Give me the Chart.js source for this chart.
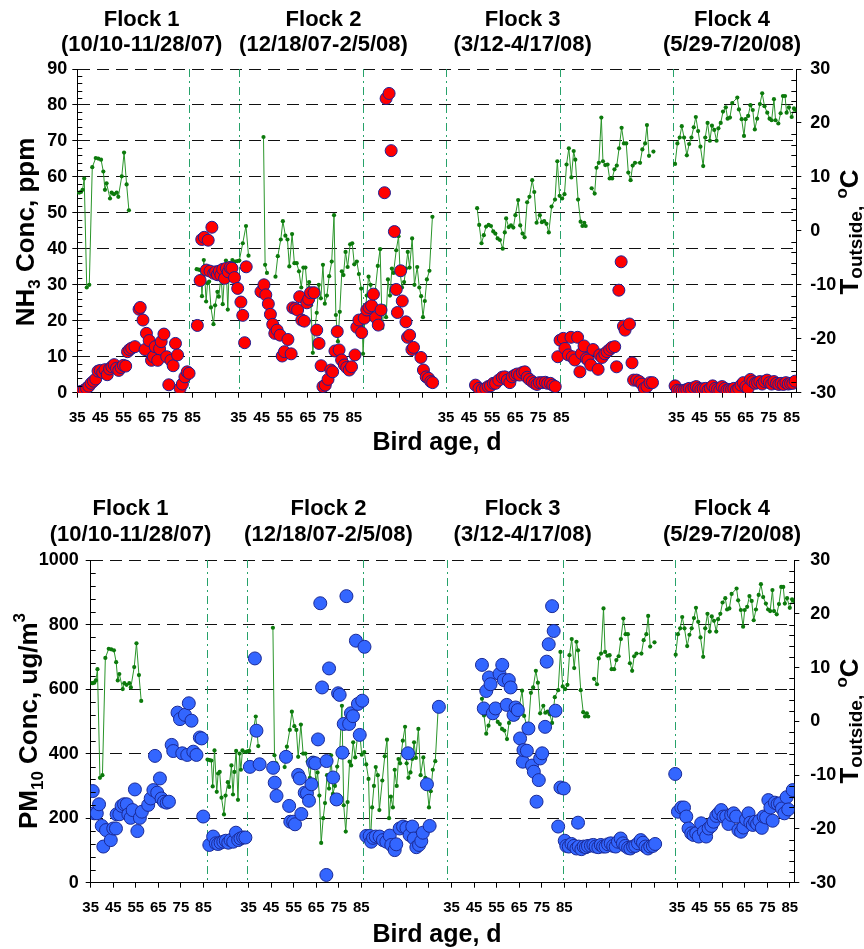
<!DOCTYPE html>
<html><head><meta charset="utf-8">
<script src="https://cdn.jsdelivr.net/npm/chart.js@4.4.0/dist/chart.umd.min.js"></script>
<style>
html,body{margin:0;padding:0;background:#fff;}
canvas{position:absolute;left:0;}
#c1{top:0;}
#c2{top:475px;}
</style></head><body>
<canvas id="c1" width="864" height="475"></canvas>
<canvas id="c2" width="864" height="474"></canvas>
<script>
const FONT = "'Liberation Sans', Arial, Helvetica, sans-serif";

// ---------- labels ----------
const flockNames = ['Flock 1','Flock 2','Flock 3','Flock 4'];
const flockDates = ['(10/10-11/28/07)','(12/18/07-2/5/08)','(3/12-4/17/08)','(5/29-7/20/08)'];
const ageTicks = [35,45,55,65,75,85];          // bird age tick labels (per flock)
const flockOffsets = [0,70,160,260];           // position of each flock's age scale on the shared axis
const xTickPositions = [35,45,55,65,75,85,95,105,115,125,135,145,155,165,175,185,195,205,215,225,235,245,255,265,275,285,295,305,315,325,335,345];
const nh3Ticks = [0,10,20,30,40,50,60,70,80,90];
const pmTicks = [0,200,400,600,800,1000];
const tempTicks = [-30,-20,-10,0,10,20,30];
const dividersTop = [83.5,105.2,159.1,194.8,244.3,293.6];
const dividersBottom = [86.5,104.2,155.6,193.2,244.6,294.2];

// ---------- NH3 (ppm) ----------
const nh3Day1 = [35,36,37,38,39,40,41,42,43,44,45,46,47,48,49,50,51,52,53,54,55,56,56.8,57.7,58.6,60,61.8,62.3,63.5,64.4,65,66.2,67.2,68,68.8,69.9,70.7,71.4,72.6,73.8,74.7,75.6,76.6,77.6,78.5,79.6,80.6,81.7,82.7,83.5];
const nh3Conc1 = [0.2,0.2,0.4,0.7,1.2,1.8,2.6,3.2,3.8,6.0,6.2,5.6,6.4,5.0,6.6,7.2,7.8,6.8,6.2,7.0,7.6,7.4,11.4,12.0,12.4,12.8,23.2,23.7,20.2,12.0,16.5,14.5,9.0,10.0,12.8,9.0,12.2,14.2,16.3,10.0,2.2,9.0,7.5,13.7,10.5,1.2,2.4,4.4,5.8,5.4];
const nh3Day2 = [87.1,88.3,89.0,90.1,91.0,91.8,92.6,93.4,94.2,95.0,95.8,96.6,97.3,98.1,98.9,99.7,100.5,101.3,102.1,103.2,104.6,106.0,106.8,107.6,108.3,114.7,116.0,116.8,117.9,118.8,119.8,120.7,121.7,123.0,123.9,124.9,126.4,127.8,128.5,129.6,130.6,131.5,132.4,133.5,134.6,135.4,136.2,137.7,138.9,139.9,140.8,141.6,142.6,143.8,145.0,145.8,146.8,147.8,148.6,149.7,150.9,151.9,153.0,154.0,155.5,156.3,157.2,158.4,159.5,160.6,161.6,162.7,163.5,164.5,165.6,166.8,168.3,169.0,170.3,171.2,172.6,173.4,173.9,175.3,176.0,177.6,178.3,179.2,180.2,180.9,184.1,185.2,186.4,187.4,188.4,189.2];
const nh3Conc2 = [18.7,31.2,42.6,43.2,34.1,42.4,33.8,46.0,33.2,33.6,32.8,33.8,32.7,34.3,31.8,34.6,33.6,34.8,34.6,32.0,29.0,25.2,21.5,13.9,35.0,28.1,30.0,27.2,24.7,21.8,19.0,16.5,17.4,16.0,10.2,11.4,14.8,10.8,23.6,23.4,23.0,26.7,20.2,19.9,25.0,26.0,27.8,27.8,17.4,13.7,7.5,1.7,2.1,3.7,6.3,5.8,11.6,17.0,11.9,9.1,7.7,7.0,6.3,7.2,10.5,18.2,20.2,16.7,20.7,23.0,23.7,24.2,27.4,20.9,18.8,23.0,55.6,81.8,83.2,67.3,44.8,28.7,22.3,33.9,25.5,19.7,15.4,16.0,12.0,12.6,9.8,6.3,4.4,4.0,3.1,2.8];
const nh3Day3 = [207.8,209.3,210.7,212.2,213.3,214.3,215.5,216.5,217.9,219.4,220.5,221.6,222.7,223.7,224.9,225.9,226.9,228.1,229.2,230.2,231.2,232.4,233.5,234.5,235.5,236.7,238.1,239.1,240.3,241.3,242.4,243.5,244.5,245.9,246.6,248.1,249.2,249.8,250.9,252.1,253.1,253.8,254.9,255.9,256.6,257.8,258.8,261.0,261.7,262.7,263.9,264.9,266.0,267.0,268.2,269.0,270.0,271.0,272.0,272.7,274.6,275.7,276.4,277.7,278.9,280.0,281.0,282.2,283.5,284.6];
const nh3Conc3 = [2.1,1.2,0.9,1.2,1.7,1.9,2.6,2.6,3.5,4.3,4.4,3.5,2.8,4.4,4.9,5.2,4.9,5.6,5.8,4.3,3.7,3.1,2.6,2.3,2.8,2.8,2.9,2.6,2.6,2.1,1.7,10.0,14.6,15.1,12.3,10.5,15.4,10.0,9.1,15.4,5.8,10.9,13.0,9.5,9.1,7.7,12.0,6.5,10.5,9.8,10.8,11.4,12.0,12.6,12.8,7.2,28.5,36.4,18.5,17.4,19.1,8.3,3.5,3.5,3.1,2.4,1.2,1.7,2.8,2.8];
const nh3Day4 = [294.4,295.4,296.4,297.4,298.5,299.5,300.5,301.5,302.6,303.6,304.6,305.6,306.6,307.7,308.7,309.7,310.7,311.8,312.8,313.8,314.8,315.9,316.9,317.9,318.9,319.9,321.0,322.0,323.0,324.0,325.1,326.1,327.1,328.1,329.2,330.2,331.2,332.2,333.2,334.3,335.3,336.3,337.3,338.4,339.4,340.4,341.4,342.5,343.5,344.5,345.5,346.5];
const nh3Conc4 = [1.9,0.7,0.6,0.5,0.7,0.9,1.2,0.9,1.4,1.7,1.2,0.9,1.1,1.2,0.7,1.2,1.9,1.2,0.9,0.7,1.7,1.2,0.7,0.9,0.9,1.2,0.7,1.2,2.1,2.8,1.7,1.2,3.7,3.1,2.6,2.8,3.1,2.4,3.1,3.5,2.8,2.4,3.1,2.6,2.3,2.6,2.3,2.8,2.4,2.6,2.6,3.2];

// ---------- PM10 (ug/m3) ----------
const pmDay1 = [35.9,36.6,37.7,38.7,39.9,40.6,41.8,43.9,45.0,46.2,46.5,47.7,48.7,49.8,51.0,51.7,52.7,53.6,54.6,55.7,56.8,57.7,60.5,61.6,62.8,63.5,64.5,65.7,66.4,67.5,68.7,69.7,70.9,71.6,73.5,74.6,75.6,76.8,77.8,78.5,79.7,80.5,81.9,83.4,84.2,84.9,87.6,89.3,90.5,91.5,92.6,93.8,94.9,96.0,97.0,98.2,99.4,100.4,101.4,102.6,103.6];
const pmConc1 = [284,215,215,243,176,112,163,132,168,168,212,212,238,243,243,212,201,225,289,160,201,220,241,261,287,393,279,323,261,251,248,251,427,408,527,507,401,520,396,556,502,406,396,450,447,205,117,143,122,120,124,127,130,124,132,127,155,132,137,140,140];
const pmDay2 = [105.6,107.8,108.5,109.9,115.9,116.6,117.4,121.6,123.0,123.5,124.8,125.6,127.0,127.7,128.4,129.9,130.9,131.8,132.9,133.6,134.6,135.8,136.8,137.6,139.5,139.6,140.7,142.5,144.0,144.7,145.4,146.6,147.2,148.4,149.6,150.4,151.3,152.6,153.5,154.3,155.4,156.4,157.2,158.7,159.4,160.2,161.4,163.1,164.6,166.1,167.6,168.3,169.8,170.5,172.0,173.5,175.0,175.7,176.4,177.6,178.3,179.4,180.6,181.6,182.3,184.1,185.3,189.4];
const pmConc2 = [359,695,471,367,356,310,269,390,238,189,189,181,334,323,213,279,277,254,305,372,370,444,866,605,24,377,664,326,258,587,582,403,492,888,492,525,516,750,554,458,564,731,145,145,127,139,143,143,132,127,146,117,101,119,168,174,170,401,148,174,137,110,117,129,155,305,176,545];
const pmDay3 = [208.5,209.3,210.4,211.6,212.3,213.3,214.5,216.3,217.5,218.2,219.5,220.4,221.2,222.5,223.4,224.4,225.4,226.6,226.9,228.4,229.1,230.7,231.5,232.7,233.7,234.3,235.2,236.5,237.2,238.1,239.6,240.3,241.1,242.3,243.3,244.8,245.2,245.9,247.0,248.2,249.3,250.4,251.1,251.4,252.6,253.6,254.6,255.5,256.8,257.9,258.9,260.1,261.2,262.2,263.3,264.4,265.6,266.7,267.8,268.8,270.0,271.0,272.1,273.3,274.3,275.5,276.5,277.7,278.9,279.9,281.0,282.1,283.1,284.3,285.3];
const pmConc3 = [675,540,594,636,615,525,540,647,675,628,551,628,605,520,543,535,447,375,411,409,478,363,344,251,318,385,401,483,685,739,857,780,533,174,295,292,130,114,112,120,114,106,186,112,104,112,110,114,115,117,112,110,117,112,112,119,122,114,112,127,137,122,114,108,106,112,114,122,132,124,112,106,112,114,120];
const pmDay4 = [294.2,295.4,296.9,298.1,299.1,300.1,301.3,302.3,303.5,304.6,305.7,306.9,307.9,309.0,310.2,311.2,312.4,313.4,314.6,315.6,316.8,317.8,319.0,320.1,321.2,322.2,323.4,324.4,325.6,326.7,327.5,328.6,329.6,330.5,331.5,332.6,333.4,334.5,335.5,336.4,337.4,338.4,339.6,340.7,341.5,342.6,343.6,344.3,346.3];
const pmConc4 = [337,220,233,233,205,168,153,148,153,143,184,158,143,168,176,189,207,215,225,205,205,182,210,215,205,163,158,171,196,215,186,179,189,182,192,170,205,202,256,233,192,248,244,246,230,215,265,227,287];

// ---------- outside temperature (deg C); null = no reading ----------
const tempDay1 = [35.0,35.9,36.6,37.3,38.0,39.1,40.2,41.5,43.0,44.1,45.3,46.3,47.0,47.7,49.2,49.9,50.9,52.1,52.8,54.3,55.3,56.4,57.4];
const temp1 = [7.1,7.1,7.2,7.6,9.7,-10.5,-10.0,11.8,13.5,13.4,13.2,11.0,7.6,8.8,6.0,7.1,6.8,7.1,6.3,10.1,14.5,8.6,3.8];
const tempDay2 = [86.8,87.7,88.5,89.1,89.9,90.9,91.5,92.2,93.0,94.1,94.8,95.8,96.4,97.4,98.1,98.7,99.5,100.3,101.0,101.6,102.3,103.5,104.5,105.3,106.8,108.2,109.3,112.0,115.8,116.5,117.3,119.0,121.0,122.0,123.3,124.2,125.3,126.2,127.0,128.2,129.2,130.2,131.2,132.2,133.1,134.0,134.9,135.6,136.4,137.2,138.1,138.9,139.8,140.7,141.6,142.4,143.3,144.3,145.4,146.4,147.2,148.1,148.9,149.8,150.5,151.4,152.3,153.4,154.3,155.2,156.3,157.2,158.2,159.0,159.8,160.6,161.4,162.3,163.0,164.3,165.4,166.4,167.3,168.1,169.0,169.8,170.7,171.5,172.2,173.4,174.4,175.1,175.9,176.8,177.6,178.4,179.2,180.3,181.3,182.5,183.4,184.2,185.0,185.8,186.7,187.8,189.1];
const temp2 = [-7.1,-7.2,-7.3,-12.1,-5.4,-13.1,-9.7,-9.4,-14.2,-17.3,-13.8,-11.3,-12.2,-8.2,-13.6,-9.4,-5.5,-14.6,-6.0,-9.0,-5.4,-5.7,-5.6,-5.5,-2.3,0.9,-4.6,null,17.4,-6.3,-7.8,null,-8.5,-4.7,-1.6,1.8,-0.9,-1.6,-6.6,-0.6,-6.0,-6.0,-7.5,-10.5,-6.8,-6.8,-11.6,-9.5,-13.8,-22.6,-18.0,-15.2,-10.0,-12.5,-6.3,-13.5,-12.0,-8.4,-5.7,2.9,-15.6,-20.5,-15.0,-7.5,-8.2,-3.9,-6.7,-2.5,-2.3,-6.2,-5.7,-8.0,-10.7,-22.8,-16.0,-12.0,-8.5,-10.0,-16.5,-11.0,-6.5,-3.4,-18.0,-14.0,-16.0,-9.0,-12.0,-7.0,-7.8,-3.6,-1.0,-7.8,-10.5,-9.5,-7.0,-3.9,-6.8,-1.4,-10.0,-6.7,-10.5,-12.1,-16.0,-13.0,-9.0,-7.4,2.6];
const tempDay3 = [208.5,209.4,210.4,211.4,212.4,213.5,214.5,215.5,216.4,217.4,218.4,219.6,220.5,221.1,222.2,223.2,224.2,225.1,226.3,227.2,228.2,229.1,230.2,231.2,232.4,233.3,234.3,235.7,236.6,237.6,238.6,239.6,240.8,242.3,243.3,244.3,245.4,246.4,247.3,248.3,249.4,250.4,251.1,252.3,253.4,254.2,255.0,255.6,257.0,258.2,259.5,260.3,261.3,262.4,263.1,264.1,265.1,266.0,267.1,268.1,269.1,270.1,271.2,272.2,273.2,274.1,275.1,276.0,277.0,279.2,280.2,281.4,282.2,283.1,284.0,285.0];
const temp3 = [4.2,1.1,-2.3,-0.8,0.8,1.1,0.9,-0.1,-0.5,-1.4,-1.7,-3.3,-0.3,2.3,0.7,1.0,0.6,2.9,5.7,1.0,-0.5,-1.2,5.3,6.3,9.4,7.2,1.5,2.9,1.6,1.8,1.3,-0.3,4.5,5.8,12.9,6.5,6.0,6.8,12.3,15.3,9.9,14.8,13.2,5.8,1.7,0.9,1.5,0.9,null,7.9,6.9,11.7,12.6,21.0,12.9,12.2,12.3,9.7,9.7,11.4,12.1,15.3,19.1,16.2,16.2,10.8,9.4,12.1,12.6,12.6,15.1,16.2,19.6,13.9,null,14.7];
const tempDay4 = [294.4,295.4,296.4,297.3,298.3,299.5,300.5,301.5,302.5,303.4,304.4,305.4,306.6,307.5,308.5,309.5,310.4,311.4,312.4,313.2,314.2,315.2,316.4,317.2,318.2,319.2,321.4,322.1,323.3,324.3,325.0,326.1,327.1,328.1,329.0,330.0,331.2,332.2,333.2,334.4,335.4,336.3,337.3,338.0,339.2,340.2,341.2,342.1,342.8,343.8,345.0,346.0,346.7];
const temp4 = [12.4,16.2,17.3,19.4,17.3,14.0,16.1,17.3,19.2,21.1,18.5,15.6,12.0,17.3,20.0,16.7,19.5,18.7,16.7,19.0,20.0,22.1,22.9,20.8,21.0,23.7,24.7,22.5,20.7,17.6,20.7,21.3,23.3,22.4,18.8,20.8,23.5,25.5,23.1,21.9,20.8,20.5,24.4,20.5,19.9,21.8,25.0,25.0,21.9,22.9,21.1,22.7,22.4];

// ---------- helpers ----------
function pts(xs, ys){ return xs.map((x,i)=>({x:x, y:ys[i]})); }
function ageLabel(v){
  for (const off of flockOffsets){
    const a = Math.round(v - off);
    if (ageTicks.includes(a) && Math.abs(v-off-a) < 0.01) return String(a);
  }
  return '';
}
function circleSet(xs, ys, fill, stroke, r){
  return {type:'scatter', data:pts(xs,ys), yAxisID:'y', backgroundColor:fill, borderColor:stroke,
    borderWidth:1, pointRadius:r, pointHoverRadius:r, order:0, showLine:false};
}
function tempSet(xs, ys){
  return {type:'scatter', data:pts(xs,ys), yAxisID:'y1', showLine:true, spanGaps:false,
    borderColor:'#2a952a', borderWidth:1, pointRadius:2.1, pointHoverRadius:2.1,
    pointBackgroundColor:'#0c7a0c', pointBorderWidth:0, backgroundColor:'#0c7a0c', order:1};
}
function richText(ctx, parts, cx, cy, rot){
  ctx.save(); ctx.translate(cx, cy); ctx.rotate(rot);
  let total = 0;
  parts.forEach(p=>{ ctx.font = 'bold '+p.px+'px '+FONT; p.w = ctx.measureText(p.t).width; total += p.w; });
  let x = -total/2;
  ctx.textAlign='left'; ctx.textBaseline='alphabetic'; ctx.fillStyle='#000';
  parts.forEach(p=>{ ctx.font = 'bold '+p.px+'px '+FONT; ctx.fillText(p.t, x, p.dy||0); x += p.w; });
  ctx.restore();
}

function makePanel(id, o){
  const W = 864, H = o.H;
  const decor = {
    id:'decor',
    beforeDatasetsDraw(chart){
      const ctx = chart.ctx, ca = chart.chartArea, xs = chart.scales.x;
      ctx.save();
      ctx.strokeStyle = '#27a26a'; ctx.lineWidth = 1; ctx.setLineDash([8,4,2,4]);
      o.dividers.forEach(v=>{
        const px = Math.round(xs.getPixelForValue(v)) + 0.5;
        ctx.beginPath(); ctx.moveTo(px, ca.top); ctx.lineTo(px, ca.bottom); ctx.stroke();
      });
      ctx.restore();
    },
    afterDraw(chart){
      const ctx = chart.ctx, ca = chart.chartArea, ys = chart.scales.y, y1 = chart.scales.y1;
      ctx.save();
      ctx.strokeStyle = '#000'; ctx.lineWidth = 1; ctx.beginPath();
      const step = o.yTicks[1]-o.yTicks[0];
      for (let k=1; k<o.yTicks.length; k++){
        for (let j=1; j<o.minorPerMajor; j++){
          const v = o.yTicks[k-1] + step*j/o.minorPerMajor;
          const py = Math.round(ys.getPixelForValue(v)) + 0.5;
          ctx.moveTo(ca.left, py); ctx.lineTo(ca.left+5, py);
        }
      }
      for (let k=1; k<tempTicks.length; k++){
        for (let j=1; j<5; j++){
          const v = tempTicks[k-1] + 10*j/5;
          const py = Math.round(y1.getPixelForValue(v)) + 0.5;
          ctx.moveTo(ca.right-5, py); ctx.lineTo(ca.right, py);
        }
      }
      ctx.stroke();
      // flock headers
      ctx.fillStyle = '#000'; ctx.textAlign = 'center'; ctx.textBaseline = 'alphabetic';
      ctx.font = 'bold 22px '+FONT;
      flockNames.forEach((n,i)=>{
        ctx.fillText(n, o.flockX[i], o.flockY);
        ctx.fillText(flockDates[i], o.flockX[i], o.dateY);
      });
      // x title
      ctx.font = 'bold 25px '+FONT;
      ctx.fillText('Bird age, d', 437, o.xTitleY);
      ctx.restore();
      richText(ctx, o.leftTitle, o.leftTitleX, o.titleCY, -Math.PI/2);
      richText(ctx, [{t:'T',px:26},{t:'outside,',px:19,dy:4},{t:' ',px:26},{t:'o',px:17,dy:-11},{t:'C',px:26}],
               858, o.titleCY, -Math.PI/2);
    }
  };
  const tickFontY = {family:FONT, size:18, weight:'bold'};
  return new Chart(document.getElementById(id), {
    data:{datasets:o.datasets},
    options:{
      responsive:false, animation:false, devicePixelRatio:1,
      layout:{padding:{top:o.area.t, left:0, right:0, bottom:0}},
      plugins:{legend:{display:false}, tooltip:{enabled:false}},
      scales:{
        x:{type:'linear', position:'bottom', min:35, max:347,
          afterBuildTicks:s=>{ s.ticks = xTickPositions.map(v=>({value:v})); },
          afterFit:s=>{ s.height = H - o.area.b; },
          ticks:{autoSkip:false, maxRotation:0, minRotation:0, padding:11, color:'#000',
            font:{family:FONT, size:15, weight:'bold'}, callback:v=>ageLabel(v)},
          grid:{drawOnChartArea:false, drawTicks:true, tickLength:5, color:'#000', lineWidth:1},
          border:{display:true, color:'#000', width:1}},
        y:{type:'linear', position:'left', min:o.yTicks[0], max:o.yTicks[o.yTicks.length-1],
          afterBuildTicks:s=>{ s.ticks = o.yTicks.map(v=>({value:v})); },
          afterFit:s=>{ s.width = o.area.l; },
          ticks:{padding:o.lpad, color:'#000', font:tickFontY, callback:v=>String(v)},
          grid:{drawOnChartArea:true, drawTicks:true, tickLength:5, color:'#111', lineWidth:1, tickColor:'#000'},
          border:{display:true, color:'#000', width:1, dash:[12,7]}},
        y1:{type:'linear', position:'right', min:-30, max:30,
          afterBuildTicks:s=>{ s.ticks = tempTicks.map(v=>({value:v})); },
          afterFit:s=>{ s.width = W - o.area.r; },
          ticks:{padding:o.rpad, color:'#000', font:tickFontY, callback:v=>String(v)},
          grid:{drawOnChartArea:false, drawTicks:true, tickLength:5, color:'#000', lineWidth:1},
          border:{display:true, color:'#000', width:1}}
      }
    },
    plugins:[decor]
  });
}

const RED = '#ff0000', REDB = '#1e1e96', BLUE = '#3366ff', BLUEB = '#1a2a96';

makePanel('c1', {
  H:475, area:{l:77.3, r:796.3, t:69, b:392.7}, yTicks:nh3Ticks, minorPerMajor:5, lpad:5, rpad:9,
  dividers:dividersTop,
  flockX:[141.7,323.5,522.7,732], flockY:26, dateY:50.5, xTitleY:449.5,
  leftTitle:[{t:'NH',px:26},{t:'3',px:17,dy:6},{t:' Conc, ppm',px:26}], leftTitleX:34, titleCY:232,
  datasets:[
    circleSet(nh3Day1, nh3Conc1, RED, REDB, 6), circleSet(nh3Day2, nh3Conc2, RED, REDB, 6),
    circleSet(nh3Day3, nh3Conc3, RED, REDB, 6), circleSet(nh3Day4, nh3Conc4, RED, REDB, 6),
    tempSet(tempDay1, temp1), tempSet(tempDay2, temp2), tempSet(tempDay3, temp3), tempSet(tempDay4, temp4)
  ]
});

makePanel('c2', {
  H:474, area:{l:90.7, r:794.3, t:85, b:407.7}, yTicks:pmTicks, minorPerMajor:5, lpad:7, rpad:11,
  dividers:dividersBottom,
  flockX:[130.5,328.5,522.7,732], flockY:40, dateY:65.5, xTitleY:466.7,
  leftTitle:[{t:'PM',px:26},{t:'10',px:17,dy:6},{t:' Conc, ug/m',px:26},{t:'3',px:17,dy:-12}], leftTitleX:37, titleCY:246,
  datasets:[
    circleSet(pmDay1, pmConc1, BLUE, BLUEB, 6.5), circleSet(pmDay2, pmConc2, BLUE, BLUEB, 6.5),
    circleSet(pmDay3, pmConc3, BLUE, BLUEB, 6.5), circleSet(pmDay4, pmConc4, BLUE, BLUEB, 6.5),
    tempSet(tempDay1, temp1), tempSet(tempDay2, temp2), tempSet(tempDay3, temp3), tempSet(tempDay4, temp4)
  ]
});
</script></body></html>
